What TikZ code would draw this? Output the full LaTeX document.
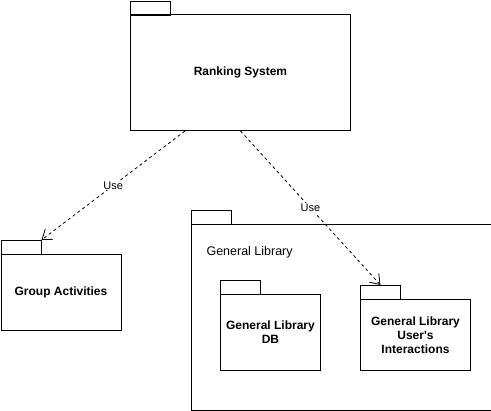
\documentclass[tikz,border=0pt]{standalone}
\usepackage{fontspec}
\setmainfont{Liberation Sans}
\usetikzlibrary{arrows.meta}
\begin{document}
\begin{tikzpicture}[x=1pt,y=-1pt,
  tabbox/.style={draw,line width=1pt,minimum width=40pt,minimum height=14pt,inner sep=0pt,anchor=north west},
  pkgbox/.style={draw,line width=1pt,inner sep=0pt,anchor=north west},
  title/.style={font=\fontsize{12}{14}\selectfont\bfseries,align=center},
  gtitle/.style={font=\fontsize{12.5}{14}\selectfont,anchor=west},
  uses/.style={draw,line width=0.8pt,dash pattern=on 3pt off 3pt,-{Straight Barb[length=9pt,width=13pt,line width=0.8pt]}},
  uselabel/.style={fill=white,inner sep=1pt,font=\fontsize{11}{13}\selectfont}]
\useasboundingbox (0,0) rectangle (491,411);
% Ranking System
\node[tabbox] (rs-tab) at (130,1) {};
\node[pkgbox,minimum width=220pt,minimum height=116pt] (rs) at (130,14) {};
\node[title] (rs-t) at (rs.center) {Ranking System};
% Group Activities
\node[tabbox] (ga-tab) at (0.5,240) {};
\node[pkgbox,minimum width=120pt,minimum height=76pt] (ga) at (0.5,254) {};
\node[title] (ga-t) at (ga.center) {Group Activities};
% General Library
\node[tabbox] (gl-tab) at (190.5,210) {};
\node[pkgbox,minimum width=300pt,minimum height=186pt] (gl) at (190.5,224) {};
\node[gtitle] (gl-t) at (203,252) {General Library};
% GL DB
\node[tabbox] (db-tab) at (220,280) {};
\node[pkgbox,minimum width=100pt,minimum height=76pt] (db) at (220,294) {};
\node[title] (db-t) at (db.center) {General Library\\DB};
% GL UI
\node[tabbox] (ui-tab) at (360,285) {};
\node[pkgbox,minimum width=110pt,minimum height=71pt] (ui) at (360,299) {};
\node[title] (ui-t) at (ui.center) {General Library\\User\textquotesingle s\\Interactions};
% connectors
\draw[uses] ([xshift=55pt]rs.south west) -- node[uselabel] (u1) {Use} (ga-tab.north east);
\draw[uses] (rs.south) -- node[uselabel] (u2) {Use} (ui-tab.north);
\end{tikzpicture}
\end{document}
